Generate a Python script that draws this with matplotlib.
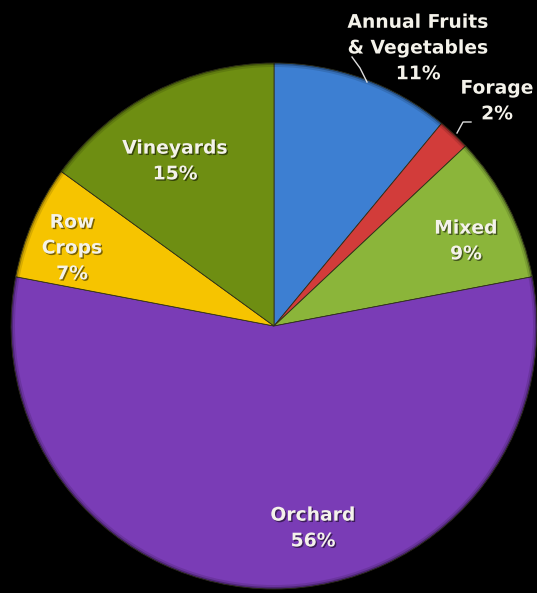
import numpy as np
import matplotlib
matplotlib.use("Agg")
import matplotlib.pyplot as plt
import matplotlib.patheffects as pe

# farm type shares, clockwise from the top
names = ["Annual Fruits\n& Vegetables", "Forage", "Mixed", "Orchard", "Row\nCrops", "Vineyards"]
shares = [11, 2, 9, 56, 7, 15]
colors = ["#3d7fd2", "#d23c3a", "#8bb53a", "#7a3cb6", "#f6c400", "#6e8e12"]

# label anchor points (pixels from top-left)
label_xy = [(418, 48), (497, 101), (466, 241), (313, 528), (72, 248), (175, 161)]

W, H = 537, 593
cx, cy, r = 274, 326, 263

fig = plt.figure(figsize=(W / 100, H / 100), dpi=100, facecolor="black")
ax = fig.add_axes([0, 0, 1, 1])
ax.set_facecolor("black")

wedges, _ = ax.pie(shares, colors=colors, startangle=90, counterclock=False,
                   center=(cx, H - cy), radius=r,
                   wedgeprops=dict(edgecolor="#30301a", linewidth=0.6))

# soft darker rim round the pie
for w, a in [(2, 0.25), (4, 0.12)]:
    ax.pie([1], colors=["black"], center=(cx, H - cy), radius=r,
           wedgeprops=dict(width=w, alpha=a, linewidth=0))

shadow = [pe.withSimplePatchShadow(offset=(1, -1), shadow_rgbFace="black", alpha=0.5)]
for name, val, (x, y) in zip(names, shares, label_xy):
    ax.text(x, H - y, f"{name}\n{val}%", ha="center", va="center",
            color="#f4f2ea", fontsize=13.5, fontweight="bold",
            linespacing=1.45, path_effects=shadow)

# leader lines for the two small slices at the top right
ax.plot([352, 360, 367], [H - 57, H - 68, H - 82], color="#dddddd", lw=1)
ax.plot([471, 463, 457], [H - 122, H - 122, H - 133], color="#dddddd", lw=1)

ax.set_xlim(0, W)
ax.set_ylim(0, H)
ax.set_aspect("equal")
ax.axis("off")

fig.savefig("out.png", dpi=100, facecolor="black")
